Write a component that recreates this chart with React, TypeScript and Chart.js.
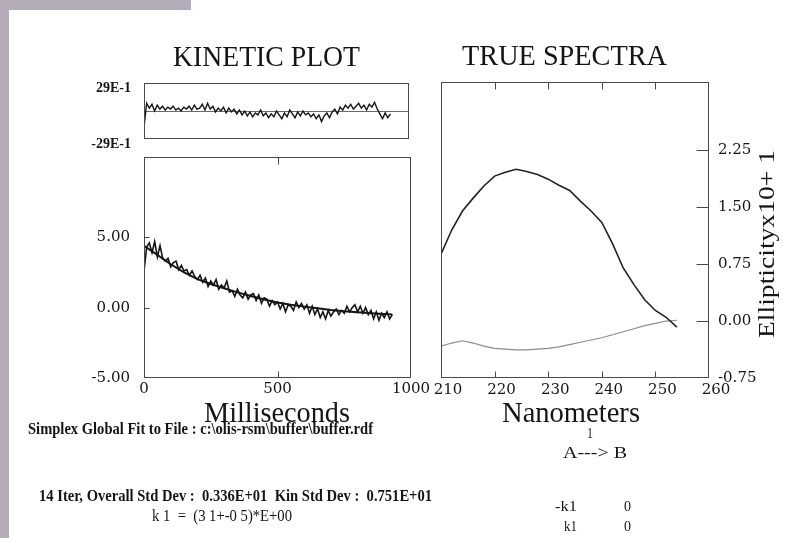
import React, { useEffect, useRef, useMemo } from 'react';
import { Chart, registerables } from 'chart.js';

Chart.register(...registerables);

// ---------- data ----------
// kinetic trace sampling times (ms)
const kinTimes = [
  0, 10, 20, 30, 40, 50, 60, 70, 80, 90, 100, 110, 120, 130, 140, 150, 160, 170, 180, 190,
  200, 210, 220, 230, 240, 250, 260, 270, 280, 290, 300, 310, 320, 330, 340, 350, 360, 370, 380, 390,
  400, 410, 420, 430, 440, 450, 460, 470, 480, 490, 500, 510, 520, 530, 540, 550, 560, 570, 580, 590,
  600, 610, 620, 630, 640, 650, 660, 670, 680, 690, 700, 710, 720, 730, 740, 750, 760, 770, 780, 790,
  800, 810, 820, 830, 840, 850, 860, 870, 880, 890, 900, 910, 920, 930,
];
// measured kinetic signal
const kinData = [
  2.6, 4.3, 4.6, 3.9, 4.7, 3.6, 4.4, 3.5, 3.3, 3.5, 2.9, 3.2, 3.3, 2.7, 3.0, 2.6, 2.7, 2.3, 2.6, 2.2,
  2.0, 2.3, 1.8, 2.1, 1.5, 1.9, 1.6, 2.0, 1.3, 1.6, 1.4, 1.9, 1.1, 1.2, 0.8, 1.3, 0.9, 0.7, 1.1, 0.6,
  0.9, 1.0, 0.5, 0.9, 0.3, 0.7, 0.6, 0.1, 0.5, 0.2, 0.4, -0.1, 0.3, -0.3, 0.2, 0.1, -0.2, 0.4, 0.0, 0.3,
  -0.1, 0.2, -0.4, 0.1, -0.5, -0.1, -0.7, -0.3, -0.8, -0.2, -0.6, -0.3, -0.1, -0.5, -0.2, -0.4, 0.1, -0.3, 0.0, 0.2,
  -0.3, 0.1, -0.4, 0.0, -0.5, -0.2, -0.8, -0.3, -0.9, -0.4, -0.7, -0.3, -0.8, -0.5,
];
// fitted curve
const fitTimes = [0, 50, 100, 150, 200, 250, 300, 350, 400, 450, 500, 550, 600, 650, 700, 750, 800, 850, 900, 930];
const fitValues = [4.39, 3.75, 3.08, 2.5, 2.02, 1.68, 1.38, 1.08, 0.82, 0.58, 0.37, 0.2, 0.07, -0.05, -0.17, -0.26, -0.33, -0.4, -0.45, -0.48];
// residuals (same sampling as kinTimes)
const residValues = [
  -0.17, 0.08, 0.03, 0.07, 0.0, 0.06, 0.02, 0.05, 0.01, 0.04, 0.02, 0.05, 0.01, 0.03, 0.0, 0.04, 0.02, 0.05, 0.01, 0.06,
  0.02, 0.03, 0.07, 0.01, 0.08, 0.02, 0.05, -0.01, 0.03, 0.0, 0.04, -0.02, 0.03, -0.01, 0.02, -0.03, 0.01, -0.04, 0.0, -0.05,
  -0.01, -0.06, -0.02, -0.04, 0.01, -0.05, -0.02, -0.07, -0.03, -0.06, 0.0, -0.04, -0.08, -0.02, -0.06, 0.01, -0.03, -0.07, -0.01, -0.05,
  0.0, -0.04, -0.02, -0.06, -0.03, -0.08, -0.04, -0.11, -0.05, -0.02, -0.07, -0.01, 0.02, -0.03, 0.04, 0.01, 0.06, 0.03, 0.07, 0.02,
  0.05, 0.08, 0.03, 0.06, 0.01, 0.07, 0.04, 0.09, 0.02, -0.03, -0.08, -0.02, -0.07, -0.03,
];
const kinXTicks = [0, 500, 1000];
const kinYTicks = [-5, 0, 5];
const residYTicks = [-0.29, 0.29];
const residYLabels = ['-29E-1', '29E-1'];

// true spectra
const wavelengths = [210, 212, 214, 216, 218, 220, 222, 224, 226, 228, 230, 232, 234, 236, 238, 240, 242, 244, 246, 248, 250, 252, 254];
const spectrumA = [0.88, 1.2, 1.45, 1.62, 1.78, 1.91, 1.96, 2.0, 1.97, 1.93, 1.87, 1.79, 1.72, 1.58, 1.45, 1.3, 1.02, 0.7, 0.48, 0.28, 0.14, 0.05, -0.08];
const spectrumB = [-0.33, -0.29, -0.26, -0.29, -0.33, -0.36, -0.37, -0.38, -0.38, -0.37, -0.36, -0.34, -0.31, -0.28, -0.25, -0.22, -0.18, -0.14, -0.1, -0.06, -0.03, 0.0, 0.01];
const specXTicks = [210, 220, 230, 240, 250, 260];
const specYTicks = [-0.75, 0, 0.75, 1.5, 2.25];

// ---------- styles ----------
const SERIF = '"Liberation Serif", "Times New Roman", serif';
const TICK_FONT = { family: '"DejaVu Serif", serif', size: 15 };
const RESID_FONT = { family: SERIF, size: 14, weight: 'bold' as const };
const FRAME_COLOR = '#4a4a4a';
const INK = '#151515';
const BG_GRAY = '#b4acb8';

type TextItem = { text: string; left: number; right: number; baseline: number; size: number; weight?: string };

const TEXTS: TextItem[] = [
  { text: 'KINETIC PLOT', left: 173, right: 360, baseline: 66, size: 29 },
  { text: 'TRUE SPECTRA', left: 462, right: 667, baseline: 65, size: 29 },
  { text: 'Milliseconds', left: 204, right: 350, baseline: 422, size: 29 },
  { text: 'Nanometers', left: 502, right: 640, baseline: 422, size: 29 },
  { text: 'Simplex Global Fit to File : c:\\olis-rsm\\buffer\\buffer.rdf', left: 28, right: 373, baseline: 434, size: 17, weight: 'bold' },
  { text: '1', left: 587, right: 593, baseline: 439, size: 14 },
  { text: 'A---> B', left: 563, right: 627, baseline: 458, size: 17 },
  { text: '14 Iter, Overall Std Dev :  0.336E+01  Kin Std Dev :  0.751E+01', left: 39, right: 432, baseline: 501, size: 16, weight: 'bold' },
  { text: 'k 1  =  (3 1+-0 5)*E+00', left: 152, right: 292, baseline: 521, size: 16 },
  { text: '-k1', left: 555, right: 577, baseline: 512, size: 15 },
  { text: '0', left: 624, right: 631, baseline: 512, size: 15 },
  { text: 'k1', left: 564, right: 577, baseline: 532, size: 15 },
  { text: '0', left: 624, right: 631, baseline: 532, size: 15 },
];
const Y_TITLE = { text: 'Ellipticityx10+ 1', cx: 766, cy: 244, length: 188, size: 24 };

function measure(text: string, font: string): number {
  const c = document.createElement('canvas').getContext('2d');
  if (!c) return 1;
  c.font = font;
  return c.measureText(text).width || 1;
}

function FitText({ item }: { item: TextItem }) {
  const weight = item.weight || 'normal';
  const k = useMemo(
    () => (item.right - item.left) / measure(item.text, `${weight} ${item.size}px ${SERIF}`),
    [item, weight]
  );
  return (
    <div
      style={{
        position: 'absolute',
        left: item.left,
        top: item.baseline - 0.8375 * item.size,
        fontFamily: SERIF,
        fontSize: item.size,
        fontWeight: weight as any,
        lineHeight: `${item.size}px`,
        whiteSpace: 'pre',
        color: INK,
        transform: `scaleX(${k})`,
        transformOrigin: '0 0',
      }}
    >
      {item.text}
    </div>
  );
}

function RotatedTitle() {
  const t = Y_TITLE;
  const k = useMemo(() => t.length / measure(t.text, `normal ${t.size}px ${SERIF}`), []);
  return (
    <div style={{ position: 'absolute', left: t.cx, top: t.cy, width: 0, height: 0 }}>
      <div
        style={{
          position: 'absolute',
          left: 0,
          top: 0,
          fontFamily: SERIF,
          fontSize: t.size,
          lineHeight: `${t.size}px`,
          whiteSpace: 'pre',
          color: INK,
          transformOrigin: '0 0',
          transform: `rotate(-90deg) scaleX(${k}) translate(-50%, -50%)`,
        }}
      >
        {t.text}
      </div>
    </div>
  );
}

type FrameCfg = { xTop: number; xBottom: number; yLen: number; ySide: 'left' | 'right'; zeroLine?: boolean };

function framePlugin(cfg: FrameCfg) {
  return {
    id: 'frame',
    beforeDatasetsDraw(chart: any) {
      if (!cfg.zeroLine) return;
      const { ctx, chartArea: a } = chart;
      const y = Math.round(chart.scales.y.getPixelForValue(0)) + 0.5;
      ctx.save();
      ctx.strokeStyle = '#6a6a6a';
      ctx.lineWidth = 1;
      ctx.beginPath();
      ctx.moveTo(a.left, y);
      ctx.lineTo(a.right, y);
      ctx.stroke();
      ctx.restore();
    },
    afterDatasetsDraw(chart: any) {
      const { ctx, chartArea: a, scales } = chart;
      const L = Math.round(a.left) + 0.5;
      const R = Math.round(a.right) - 0.5;
      const T = Math.round(a.top) + 0.5;
      const B = Math.round(a.bottom) - 0.5;
      ctx.save();
      ctx.strokeStyle = FRAME_COLOR;
      ctx.lineWidth = 1;
      ctx.strokeRect(L, T, R - L, B - T);
      ctx.beginPath();
      for (const t of scales.x.ticks) {
        const px = Math.round(scales.x.getPixelForValue(t.value)) + 0.5;
        if (px <= L + 2 || px >= R - 2) continue;
        if (cfg.xBottom) { ctx.moveTo(px, B); ctx.lineTo(px, B - cfg.xBottom); }
        if (cfg.xTop) { ctx.moveTo(px, T); ctx.lineTo(px, T + cfg.xTop); }
      }
      if (cfg.yLen) {
        for (const t of scales.y.ticks) {
          const py = Math.round(scales.y.getPixelForValue(t.value)) + 0.5;
          if (py <= T + 2 || py >= B - 2) continue;
          if (cfg.ySide === 'left') { ctx.moveTo(L, py); ctx.lineTo(L + cfg.yLen, py); }
          else { ctx.moveTo(R, py); ctx.lineTo(R - cfg.yLen, py); }
        }
      }
      ctx.stroke();
      ctx.restore();
    },
  };
}

const fixSize = (w?: number, h?: number) => (s: any) => {
  if (w !== undefined) s.width = w;
  if (h !== undefined) s.height = h;
  s.paddingLeft = 0; s.paddingRight = 0; s.paddingTop = 0; s.paddingBottom = 0;
};
const setTicks = (vals: number[]) => (s: any) => { s.ticks = vals.map((v) => ({ value: v })); };
const noGrid = { display: false, drawTicks: false };

const base = {
  type: 'line' as const,
  options: {
    responsive: false,
    maintainAspectRatio: false,
    animation: false as const,
    devicePixelRatio: 1,
    events: [] as any[],
    plugins: { legend: { display: false }, tooltip: { enabled: false } },
    elements: { point: { radius: 0 }, line: { tension: 0 } },
  },
};

function residConfig(): any {
  return {
    ...base,
    data: {
      datasets: [
        { data: kinTimes.map((t, i) => ({ x: t, y: residValues[i] })), borderColor: INK, borderWidth: 1.4 },
      ],
    },
    options: {
      ...base.options,
      layout: { padding: { left: 0, top: 83, right: 400, bottom: 399 } },
      scales: {
        x: { type: 'linear', min: 0, max: 1000, display: false },
        y: {
          type: 'linear', position: 'left', min: -0.29, max: 0.29,
          afterBuildTicks: setTicks(residYTicks),
          afterFit: fixSize(144, undefined),
          grid: noGrid, border: { display: false },
          ticks: { padding: 13, labelOffset: 5, color: INK, font: RESID_FONT, callback: (_v: any, i: number) => residYLabels[i] },
        },
      },
    },
    plugins: [framePlugin({ xTop: 0, xBottom: 0, yLen: 0, ySide: 'left', zeroLine: true })],
  };
}

function kineticConfig(): any {
  return {
    ...base,
    data: {
      datasets: [
        { data: kinTimes.map((t, i) => ({ x: t, y: kinData[i] })), borderColor: INK, borderWidth: 1.6 },
        { data: fitTimes.map((t, i) => ({ x: t, y: fitValues[i] })), borderColor: INK, borderWidth: 2 },
      ],
    },
    options: {
      ...base.options,
      layout: { padding: { left: 0, top: 157, right: 398, bottom: 138 } },
      scales: {
        x: {
          type: 'linear', position: 'bottom', min: 0, max: 1000,
          afterBuildTicks: setTicks(kinXTicks),
          afterFit: fixSize(undefined, 22),
          grid: noGrid, border: { display: false },
          ticks: { padding: 2, autoSkip: false, maxRotation: 0, color: INK, font: TICK_FONT, callback: (v: any) => String(v) },
        },
        y: {
          type: 'linear', position: 'left', min: -5, max: 10.7,
          afterBuildTicks: setTicks(kinYTicks),
          afterFit: fixSize(144, undefined),
          grid: noGrid, border: { display: false },
          ticks: { padding: 14, color: INK, font: TICK_FONT, callback: (v: any) => Number(v).toFixed(2) },
        },
      },
    },
    plugins: [framePlugin({ xTop: 7, xBottom: 6, yLen: 5, ySide: 'left' })],
  };
}

function spectraConfig(): any {
  return {
    ...base,
    data: {
      datasets: [
        { data: wavelengths.map((w, i) => ({ x: w, y: spectrumA[i] })), borderColor: '#222', borderWidth: 1.6 },
        { data: wavelengths.map((w, i) => ({ x: w, y: spectrumB[i] })), borderColor: '#8c8c8c', borderWidth: 1.1 },
      ],
    },
    options: {
      ...base.options,
      layout: { padding: { left: 441, top: 82, right: 40, bottom: 138 } },
      scales: {
        x: {
          type: 'linear', position: 'bottom', min: 210, max: 260,
          afterBuildTicks: setTicks(specXTicks),
          afterFit: fixSize(undefined, 22),
          grid: noGrid, border: { display: false },
          ticks: { padding: 3, labelOffset: 7, autoSkip: false, maxRotation: 0, color: INK, font: TICK_FONT, callback: (v: any) => String(v) },
        },
        y: {
          type: 'linear', position: 'right', min: -0.75, max: 3.15,
          afterBuildTicks: setTicks(specYTicks),
          afterFit: fixSize(60, undefined),
          grid: noGrid, border: { display: false },
          ticks: { padding: 9, color: INK, font: TICK_FONT, callback: (v: any) => Number(v).toFixed(2) },
        },
      },
    },
    plugins: [framePlugin({ xTop: 7, xBottom: 6, yLen: 12, ySide: 'right' })],
  };
}

const W = 809;
const H = 538;

export default function App() {
  const r1 = useRef<HTMLCanvasElement>(null);
  const r2 = useRef<HTMLCanvasElement>(null);
  const r3 = useRef<HTMLCanvasElement>(null);

  useEffect(() => {
    const charts: Chart[] = [];
    if (r1.current) charts.push(new Chart(r1.current, residConfig()));
    if (r2.current) charts.push(new Chart(r2.current, kineticConfig()));
    if (r3.current) charts.push(new Chart(r3.current, spectraConfig()));
    return () => charts.forEach((c) => c.destroy());
  }, []);

  const cstyle: React.CSSProperties = { position: 'absolute', left: 0, top: 0, width: W, height: H };

  return (
    <div style={{ position: 'absolute', left: 0, top: 0, width: W, height: H, background: '#fff', overflow: 'hidden' }}>
      <div style={{ position: 'absolute', left: 0, top: 0, width: 9, height: H, background: BG_GRAY }} />
      <div style={{ position: 'absolute', left: 0, top: 0, width: 191, height: 10, background: BG_GRAY }} />
      <canvas ref={r1} width={W} height={H} style={cstyle} />
      <canvas ref={r2} width={W} height={H} style={cstyle} />
      <canvas ref={r3} width={W} height={H} style={cstyle} />
      {TEXTS.map((t, i) => (
        <FitText key={i} item={t} />
      ))}
      <RotatedTitle />
    </div>
  );
}
